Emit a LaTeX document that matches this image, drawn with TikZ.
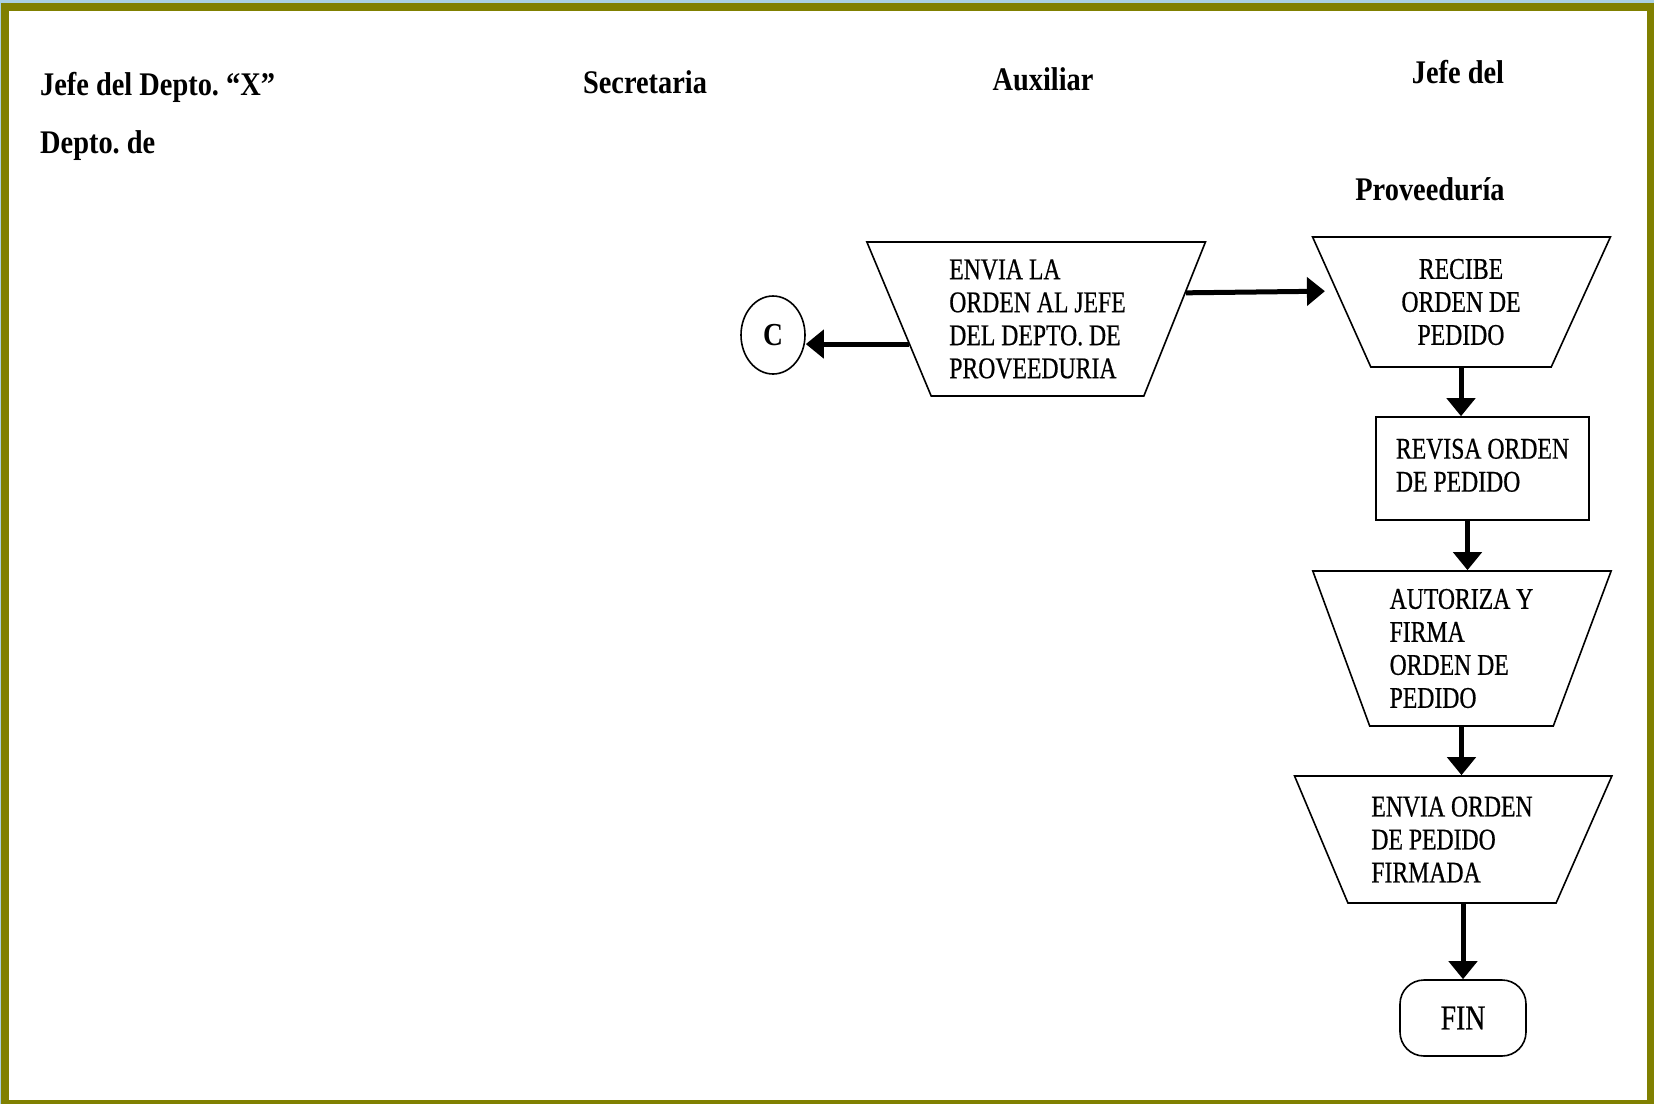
\documentclass[tikz,border=0pt]{standalone}
\usepackage{fontspec}
\setmainfont{Liberation Serif}
\newfontfamily\boxfont[FakeStretch=0.79,FakeBold=0.6]{Liberation Serif}
\newfontfamily\headfont[FakeStretch=0.86]{Liberation Serif}
\usetikzlibrary{shapes.geometric,arrows.meta}
\definecolor{frameolive}{RGB}{128,128,0}
\definecolor{edgeblue}{RGB}{170,208,226}
\frenchspacing
\tikzset{
  head/.style={font=\headfont\bfseries\fontsize{33}{36}\selectfont, inner sep=0pt},
  boxtext/.style={font=\boxfont\fontsize{30}{33}\selectfont, inner sep=0pt},
  proc/.style={boxtext, trapezium, shape border rotate=180, trapezium stretches=true,
    draw, line width=1.6pt, align=left},
  plainbox/.style={boxtext, rectangle, draw, line width=1.6pt, align=left},
  conn/.style={line width=5pt, -{Triangle[length=18pt,width=28pt]}},
}
\begin{document}
\begin{tikzpicture}[x=1pt,y=-1pt]
  \useasboundingbox (0,0) rectangle (1654,1104);
  % page frame
  \fill[edgeblue] (0,0) rectangle (1654,1104);
  \fill[frameolive] (1,3) rectangle (1654,1104);
  \fill[white] (9,11) rectangle (1647,1100);

  % column headings
  \node[head, anchor=base west] (h1) at (40,95) {Jefe del Depto. “X”};
  \node[head, anchor=base west] (h1b) at (40,153) {Depto. de};
  \node[head, anchor=base] (h2) at (645,93) {Secretaria};
  \node[head, anchor=base] (h3) at (1043,90) {Auxiliar};
  \node[head, anchor=base] (h4) at (1458,83) {Jefe del};
  \node[head, anchor=base] (h4b) at (1430,200) {Proveeduría};

  % flow shapes
  \node[proc, minimum width=339pt, minimum height=154pt,
        trapezium left angle=66.8, trapezium right angle=65.9]
        (t1) at (1037.5,319) {ENVIA LA\\ORDEN AL JEFE\\DEL DEPTO. DE\\PROVEEDURIA};
  \node[boxtext, ellipse, draw, line width=1.6pt, minimum width=64pt, minimum height=78pt,
        font=\headfont\bfseries\fontsize{32}{34}\selectfont]
        (c) at (773,335) {C};
  \node[proc, align=center, minimum width=298pt, minimum height=130pt,
        trapezium left angle=65.6, trapezium right angle=65.95]
        (t2) at (1461,302) {RECIBE\\ORDEN DE\\PEDIDO};
  \node[plainbox, minimum width=213pt, minimum height=103pt]
        (r) at (1482.5,468.5) {\raisebox{5pt}{\begin{tabular}{@{}l@{}}REVISA ORDEN\\DE PEDIDO\end{tabular}}};
  \node[proc, minimum width=299pt, minimum height=155pt,
        trapezium left angle=69.2, trapezium right angle=69.5]
        (t3) at (1461.5,648.5) {AUTORIZA Y\\FIRMA\\ORDEN DE\\PEDIDO};
  \node[proc, minimum width=318pt, minimum height=127pt,
        trapezium left angle=63.3, trapezium right angle=64.3]
        (t4) at (1452,839.5) {ENVIA ORDEN\\DE PEDIDO\\FIRMADA};
  \node[boxtext, rectangle, draw, line width=1.6pt, rounded corners=24pt,
        minimum width=126pt, minimum height=76pt,
        font=\boxfont\fontsize{35}{38}\selectfont]
        (fin) at (1463,1018) {FIN};

  % connectors
  \draw[conn] (t1.191.9) -- (t1.191.9 -| c.east);
  \draw[conn, shorten >=11pt] (t1.10.7) -- (t2.175);
  \draw[conn] (t2.270) -- (t2.270 |- r.north);
  \coordinate (r4) at ([xshift=-15pt]r.south);
  \draw[conn] (r4) -- (r4 |- t3.90);
  \draw[conn] (t3.270) -- (t3.270 |- t4.90);
  \draw[conn] (fin.north |- t4.270) -- (fin.north);
\end{tikzpicture}
\end{document}
